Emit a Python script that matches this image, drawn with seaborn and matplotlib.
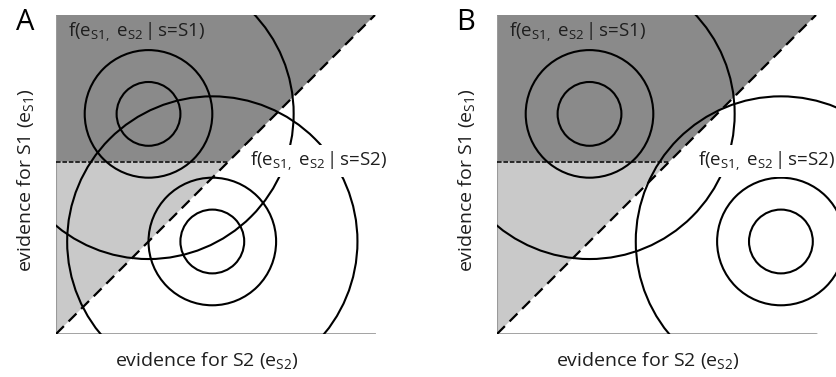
import matplotlib
matplotlib.use("Agg")
import matplotlib.pyplot as plt
from matplotlib.patches import Circle, Polygon
import seaborn as sns
import numpy as np

# ---- data (axis units: 0..1 along each evidence axis) ----
panel_labels = ["A", "B"]
s1_centers = [(0.29, 0.69), (0.29, 0.69)]     # (e_S2, e_S1) of S1 distribution per panel
s2_centers = [(0.49, 0.29), (0.89, 0.29)]     # (e_S2, e_S1) of S2 distribution per panel
contour_radii = [0.10, 0.20, 0.455]
criterion_level = 0.54
label_s1 = r"f(e$_{\mathrm{S1,}}$ e$_{\mathrm{S2}}$$\,$|$\,$s=S1)"
label_s2 = r"f(e$_{\mathrm{S1,}}$ e$_{\mathrm{S2}}$$\,$|$\,$s=S2)"
xlabel = r"evidence for S2 (e$_{\mathrm{S2}}$)"
ylabel = r"evidence for S1 (e$_{\mathrm{S1}}$)"

sns.set_theme(style="white")
plt.rcParams["font.family"] = ["Open Sans", "DejaVu Sans"]
plt.rcParams["mathtext.fontset"] = "custom"
plt.rcParams["mathtext.rm"] = "Open Sans"
plt.rcParams["mathtext.it"] = "Open Sans:italic"

W, H = 837, 377
fig = plt.figure(figsize=(W / 100, H / 100), dpi=100)

dark = "#8a8a8a"
light = "#c9c9c9"
txtc = "#1e1e1e"

ax_specs = [(56, 320), (497, 340)]   # left px, width px
unit = 319.0
s2_label_x = [0.607, 0.63]

for i, (left, wpx) in enumerate(ax_specs):
    ax = fig.add_axes([left / W, 43 / H, wpx / W, unit / H])
    xmax = wpx / unit
    ax.set_xlim(0, xmax)
    ax.set_ylim(0, 1)
    ax.set_aspect("equal")
    for s in ax.spines.values():
        s.set_visible(False)
    ax.set_xticks([])
    ax.set_yticks([])
    ax.patch.set_alpha(0)

    c = criterion_level
    ax.add_patch(Polygon([(0, c), (c, c), (1, 1), (0, 1)], closed=True,
                         facecolor=dark, edgecolor="none", zorder=1))
    ax.add_patch(Polygon([(0, 0), (c, c), (0, c)], closed=True,
                         facecolor=light, edgecolor="none", zorder=1))
    ax.plot([0, 0], [0, 1], color="#9a9a9a", lw=0.8, zorder=2, solid_capstyle="butt")
    sns.lineplot(x=[0, 1], y=[0, 0], ax=ax, color="#9a9a9a", lw=2.0, zorder=2)

    clip_rect = plt.Rectangle((0, 0), xmax, 1, transform=ax.transData)

    for center in (s1_centers[i], s2_centers[i]):
        for r in contour_radii:
            circ = Circle(center, r, fill=False, edgecolor="black", lw=1.5, zorder=3)
            ax.add_patch(circ)
            circ.set_clip_path(clip_rect)

    ax.plot([0, 1], [0, 1], color="black", lw=1.6, dashes=(5, 3), zorder=4)
    ax.plot([0, c], [c, c], color="black", lw=1.1, dashes=(3, 1.2), zorder=4)

    ax.text(0.038, 0.931, label_s1, fontsize=13.5, color=txtc,
            ha="left", va="baseline", zorder=6)
    ax.text(s2_label_x[i], 0.527, label_s2, fontsize=13.5, color=txtc,
            ha="left", va="baseline", zorder=6,
            bbox=dict(facecolor="white", edgecolor="none", pad=3.0))

    fig.text((left + 151) / W, (H - 366) / H, xlabel, fontsize=14, color=txtc,
             ha="center", va="baseline")
    fig.text((left - 30) / W, 1 - 180 / H, ylabel, fontsize=14, color=txtc,
             ha="center", va="center", rotation=90)
    fig.text((left - 31) / W, 1 - 22 / H, panel_labels[i], fontsize=21, color="black",
             ha="center", va="center")

fig.savefig("out.png", dpi=100)
